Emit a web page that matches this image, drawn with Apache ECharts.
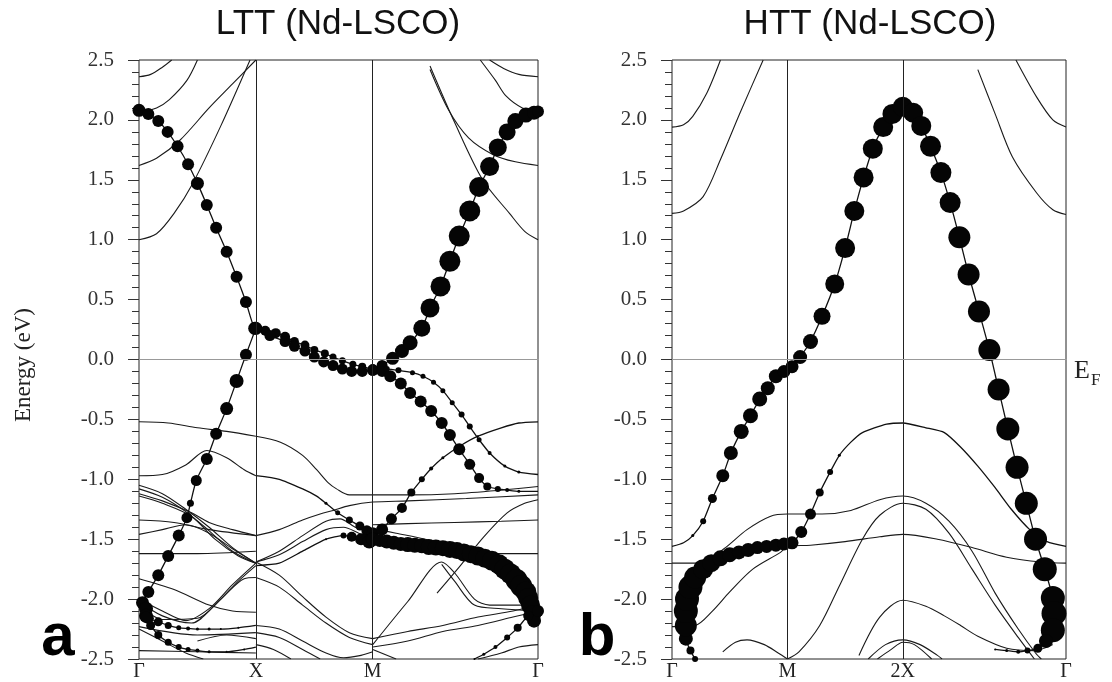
<!DOCTYPE html>
<html>
<head>
<meta charset="utf-8">
<title>LTT / HTT band structure</title>
<script src="https://cdn.jsdelivr.net/npm/echarts@6.0.0/dist/echarts.min.js"></script>
<style>
  html, body { margin: 0; padding: 0; background: #fff; }
  #main { width: 1112px; height: 682px; }
</style>
</head>
<body>
<div id="main"></div>
<script type="text/javascript">
// k path positions (Γ-X = X-M = 1, M-Γ = sqrt 2)
var kTicks = [0, 1, 2, 3.414];
var lttLabels = ['Γ', 'X', 'M', 'Γ'];
var httLabels = ['Γ', 'M', '2X', 'Γ'];
var energyTicks = [-2.5, 2.5, 0.5];

// ---------- LTT panel: thin bands [k, E] ----------
var lttThin = [
  [[0,2.36],[0.1,2.38],[0.2,2.44],[0.28,2.5]],
  [[0,2.06],[0.15,2.1],[0.26,2.17],[0.41,2.33],[0.5,2.5]],
  [[0,1.62],[0.15,1.68],[0.35,1.83],[0.6,2.1],[0.8,2.3],[1.0,2.5]],
  [[0,1.0],[0.15,1.05],[0.3,1.22],[0.46,1.47],[0.7,1.95],[0.95,2.5]],
  [[2.49,2.45],[2.7,1.98],[2.94,1.5],[3.17,1.22],[3.3,1.07],[3.414,1.0]],
  [[2.49,2.42],[2.65,2.08],[2.82,1.85],[3.03,1.71],[3.22,1.65],[3.414,1.62]],
  [[2.92,2.5],[3.05,2.33],[3.14,2.2],[3.28,2.1],[3.414,2.07]],
  [[3.0,2.5],[3.12,2.43],[3.25,2.38],[3.414,2.36]],
  [[0,-0.52],[0.25,-0.53],[0.5,-0.57],[0.75,-0.6],[1,-0.64]],
  [[0,-0.97],[0.2,-0.96],[0.4,-0.88],[0.58,-0.76],[0.75,-0.82],[0.9,-0.92],[1,-0.97]],
  [[0,-1.05],[0.2,-1.12],[0.4,-1.25],[0.6,-1.4],[0.8,-1.57],[1,-1.7]],
  [[0,-1.08],[0.2,-1.15],[0.4,-1.27],[0.6,-1.43],[0.8,-1.6],[1,-1.7]],
  [[0,-1.12],[0.2,-1.18],[0.45,-1.28],[0.6,-1.36],[0.8,-1.42],[1,-1.47]],
  [[0,-1.14],[0.2,-1.2],[0.45,-1.31],[0.65,-1.5],[0.85,-1.64],[1,-1.7]],
  [[0,-1.34],[0.3,-1.36],[0.6,-1.42],[1,-1.47]],
  [[0,-1.46],[0.2,-1.42],[0.4,-1.38],[0.6,-1.45],[0.8,-1.58],[1,-1.7]],
  [[0,-1.62],[0.5,-1.62],[1,-1.6]],
  [[0,-1.83],[0.3,-1.92],[0.6,-2.05],[0.8,-2.1],[1,-2.11]],
  [[0,-2.0],[0.2,-2.1],[0.4,-2.18],[0.6,-2.08],[0.8,-1.88],[1,-1.7]],
  [[0,-2.02],[0.2,-2.14],[0.45,-2.2],[0.65,-2.05],[0.85,-1.85],[1,-1.72]],
  [[0,-2.05],[0.2,-2.17],[0.5,-2.16],[0.7,-2.0],[0.9,-1.83],[1,-1.82]],
  [[0,-2.23],[0.5,-2.3],[1,-2.28]],
  [[0,-2.43],[0.5,-2.44],[1,-2.45]],
  [[0,-2.25],[0.2,-2.35],[0.4,-2.45],[0.55,-2.5]],
  [[0.5,-2.35],[0.75,-2.3],[1,-2.33]],
  [[1,-0.64],[1.21,-0.69],[1.4,-0.8],[1.52,-0.92],[1.62,-1.03],[1.69,-1.08],[1.8,-1.13],[2,-1.13],[2.3,-1.13],[2.7,-1.12],[3.1,-1.09],[3.414,-1.06]],
  [[1,-1.47],[1.2,-1.42],[1.4,-1.34],[1.55,-1.29],[1.66,-1.26],[1.8,-1.22],[2,-1.19],[2.3,-1.18],[2.8,-1.16],[3.414,-1.13]],
  [[1,-1.69],[1.2,-1.6],[1.4,-1.47],[1.6,-1.35],[1.72,-1.33],[1.85,-1.4],[2,-1.45]],
  [[1,-1.69],[1.2,-1.63],[1.4,-1.52],[1.6,-1.42],[1.75,-1.4],[1.88,-1.45],[2,-1.5]],
  [[1,-1.69],[1.2,-1.8],[1.4,-1.98],[1.6,-2.15],[1.8,-2.28],[2,-2.33]],
  [[1,-1.82],[1.2,-1.9],[1.4,-2.05],[1.6,-2.2],[1.8,-2.32],[2,-2.38]],
  [[1,-2.22],[1.2,-2.25],[1.4,-2.35],[1.6,-2.45],[1.75,-2.49],[1.9,-2.47],[2,-2.44]],
  [[1,-2.28],[1.2,-2.32],[1.4,-2.42],[1.55,-2.5]],
  [[1,-2.38],[1.15,-2.42],[1.3,-2.5]],
  [[2.0,-1.38],[2.3,-1.37],[2.7,-1.36],[3.1,-1.35],[3.414,-1.34]],
  [[2.0,-1.41],[2.2,-1.45],[2.45,-1.5],[2.7,-1.57],[3.0,-1.62],[3.414,-1.62]],
  [[2.0,-2.38],[2.3,-2.02],[2.59,-1.69],[2.7,-1.78],[2.87,-2.0],[3.0,-2.05],[3.2,-2.05],[3.414,-2.05]],
  [[2.59,-1.71],[2.7,-1.85],[2.87,-2.05],[3.1,-2.08],[3.414,-2.1]],
  [[2.55,-1.95],[2.75,-1.72],[2.95,-1.48],[3.15,-1.28],[3.3,-1.2],[3.414,-1.17]],
  [[2.0,-2.33],[2.3,-2.27],[2.6,-2.22],[2.9,-2.15],[3.2,-2.1],[3.414,-2.05]],
  [[2.0,-2.4],[2.3,-2.35],[2.6,-2.27],[2.9,-2.22],[3.2,-2.15],[3.414,-2.1]],
  [[2.0,-2.42],[2.2,-2.5]],
  [[2.9,-2.5],[3.1,-2.45],[3.25,-2.4],[3.414,-2.38]]
];

// ---------- LTT panel: fat bands [k, E, dot size] ----------
var lttFatDown = [[0,2.08,13],[0.08,2.05,12],[0.165,1.99,12],[0.245,1.9,12],[0.33,1.78,12],[0.42,1.63,12],[0.5,1.47,13],[0.58,1.29,12],[0.66,1.1,12],[0.75,0.9,12],[0.835,0.69,12],[0.915,0.48,12],[0.99,0.26,13],
  [1.08,0.24,10],[1.17,0.22,10],[1.25,0.19,10],[1.33,0.15,9],[1.42,0.12,9],[1.5,0.08,8],[1.59,0.05,8],[1.66,0.02,7],[1.74,-0.01,7],[1.83,-0.04,7],[1.91,-0.06,8],[2.0,-0.08,9]];
var lttFatXM = [[1.0,0.26,13],[1.12,0.2,11],[1.25,0.15,11],[1.33,0.11,11],[1.42,0.07,11],[1.5,0.02,11],[1.58,-0.02,11],[1.66,-0.05,11],[1.74,-0.08,11],[1.82,-0.1,11],[1.91,-0.1,11],[2.0,-0.09,11]];
var lttFatUp = [[2.0,-0.08,10],[2.08,-0.05,11],[2.17,0.01,13],[2.25,0.07,14],[2.32,0.14,15],[2.42,0.26,17],[2.49,0.43,19],[2.58,0.61,20],[2.66,0.82,21],[2.74,1.03,21],[2.83,1.24,21],[2.91,1.44,20],[3.0,1.61,19],[3.07,1.77,18],[3.15,1.9,17],[3.22,1.99,16],[3.31,2.04,15],[3.38,2.06,14],[3.414,2.07,12]];
var lttFatMG1 = [[2.0,-0.09,11],[2.08,-0.1,11],[2.15,-0.14,12],[2.24,-0.2,12],[2.32,-0.28,12],[2.41,-0.35,12],[2.5,-0.43,12],[2.59,-0.53,12],[2.66,-0.63,12],[2.74,-0.75,12],[2.83,-0.875,11],[2.91,-0.99,10],[2.98,-1.06,8],[3.07,-1.08,6],[3.15,-1.09,4],[3.25,-1.1,3],[3.414,-1.1,0]];
var lttFatMG2 = [[2.0,-0.08,8],[2.12,-0.08,6],[2.22,-0.09,6],[2.34,-0.11,5],[2.43,-0.14,5],[2.52,-0.19,5],[2.6,-0.26,5],[2.68,-0.36,5],[2.76,-0.46,6],[2.83,-0.56,6],[2.91,-0.67,5],[3.0,-0.78,4],[3.13,-0.89,3],[3.25,-0.94,3],[3.414,-0.96,0]];
var lttFatGX = [[0.03,-2.03,13],[0.08,-1.94,12],[0.165,-1.8,12],[0.25,-1.64,12],[0.34,-1.47,12],[0.41,-1.32,11],[0.44,-1.2,7],[0.49,-1.01,11],[0.58,-0.83,12],[0.66,-0.62,12],[0.75,-0.41,13],[0.835,-0.18,14],[0.915,0.04,12],[1.0,0.26,11]];
var lttFatLow1 = [[0.06,-2.08,14],[0.06,-2.14,14],[0.08,-2.16,11],[0.165,-2.19,9],[0.25,-2.22,7],[0.34,-2.24,5],[0.42,-2.245,4],[0.5,-2.25,3],[0.6,-2.25,3],[0.7,-2.25,2],[0.85,-2.24,2],[1.0,-2.22,0]];
var lttFatLow2 = [[0.06,-2.15,11],[0.1,-2.22,9],[0.165,-2.3,8],[0.25,-2.36,7],[0.34,-2.4,6],[0.42,-2.42,5],[0.5,-2.43,4],[0.6,-2.44,3],[0.75,-2.44,2],[0.9,-2.42,2],[1.0,-2.4,0]];
var lttFatXM2 = [[1,-0.97,0],[1.2,-1.0,0],[1.4,-1.08,0],[1.52,-1.14,0],[1.6,-1.2,3],[1.7,-1.28,5],[1.8,-1.34,7],[1.89,-1.39,9],[1.95,-1.43,11],[2.0,-1.45,12]];
var lttFatXM3 = [[1,-1.72,0],[1.2,-1.7,0],[1.4,-1.6,0],[1.6,-1.5,2],[1.75,-1.47,6],[1.82,-1.48,10],[1.9,-1.5,12],[1.97,-1.52,14]];
var lttFatMGc = [[2.0,-1.5,14],[2.08,-1.42,12],[2.16,-1.33,11],[2.25,-1.24,10],[2.33,-1.11,8],[2.42,-1.0,6],[2.5,-0.91,4],[2.6,-0.82,3],[2.75,-0.72,2],[2.9,-0.64,2],[3.1,-0.57,0],[3.25,-0.53,0],[3.414,-0.52,0]];
var lttFatBig = [[2.0,-1.5,13],[2.06,-1.51,13],[2.12,-1.52,14],[2.18,-1.53,14],[2.24,-1.54,14],[2.3,-1.545,15],[2.36,-1.55,15],[2.42,-1.555,15],[2.48,-1.565,16],[2.54,-1.57,16],[2.6,-1.575,16],[2.66,-1.585,17],[2.72,-1.595,17],[2.78,-1.61,18],[2.84,-1.625,18],[2.9,-1.64,19],[2.96,-1.66,19],[3.02,-1.68,20],[3.08,-1.71,20],[3.13,-1.75,21],[3.18,-1.79,21],[3.23,-1.84,22],[3.27,-1.89,22],[3.31,-1.94,21],[3.33,-1.99,20],[3.35,-2.05,19],[3.37,-2.12,17],[3.38,-2.18,14]];
var lttFatGdown = [[3.414,-2.1,12],[3.33,-2.14,10],[3.24,-2.24,8],[3.15,-2.32,6],[3.05,-2.4,4],[2.95,-2.46,3],[2.87,-2.5,2]];

// ---------- HTT panel: thin bands [k, E] ----------
var httThin = [
  [[0,1.94],[0.1,1.96],[0.18,2.03],[0.3,2.22],[0.42,2.5]],
  [[0,1.22],[0.1,1.24],[0.27,1.36],[0.42,1.67],[0.59,2.06],[0.79,2.5]],
  [[2.65,2.42],[2.8,2.05],[2.95,1.69],[3.16,1.39],[3.3,1.25],[3.414,1.21]],
  [[2.98,2.5],[3.16,2.19],[3.3,2.0],[3.414,1.94]],
  [[0,-2.23],[0.2,-2.22],[0.35,-2.1],[0.5,-1.94],[0.7,-1.75],[0.94,-1.61],[1,-1.56],[1.2,-1.55],[1.5,-1.52],[1.8,-1.48],[2,-1.46],[2.3,-1.5],[2.6,-1.57],[2.9,-1.65],[3.2,-1.69],[3.414,-1.7]],
  [[0,-1.7],[0.25,-1.7],[0.45,-1.58],[0.65,-1.42],[0.85,-1.31],[1,-1.29],[1.3,-1.29],[1.55,-1.26],[1.8,-1.17],[2,-1.14],[2.2,-1.2],[2.4,-1.35],[2.6,-1.6],[2.8,-1.95],[3.0,-2.25],[3.15,-2.45],[3.2,-2.5]],
  [[1,-2.5],[1.1,-2.44],[1.28,-2.22],[1.45,-1.89],[1.65,-1.5],[1.8,-1.3],[2,-1.2],[2.2,-1.25],[2.4,-1.45],[2.6,-1.75],[2.8,-2.05],[3.0,-2.32],[3.14,-2.5]],
  [[1.62,-2.47],[1.8,-2.15],[2,-2.01],[2.2,-2.06],[2.36,-2.14],[2.5,-2.22],[2.65,-2.31],[2.9,-2.41],[3.14,-2.43],[3.3,-2.38]],
  [[1.7,-2.5],[1.85,-2.38],[2,-2.34],[2.15,-2.38],[2.3,-2.47],[2.34,-2.5]],
  [[1.78,-2.5],[1.9,-2.42],[2,-2.36],[2.1,-2.38],[2.25,-2.5]],
  [[0.44,-2.44],[0.55,-2.36],[0.65,-2.34],[0.8,-2.38],[0.92,-2.45],[1,-2.5]]
];

// ---------- HTT panel: fat bands [k, E, dot size] ----------
var httFatMain = [[0,-1.56,0],[0.1,-1.53,0],[0.18,-1.47,3],[0.27,-1.35,6],[0.35,-1.16,9],[0.44,-0.97,13],[0.51,-0.78,14],[0.6,-0.6,15],[0.68,-0.47,15],[0.76,-0.33,15],[0.83,-0.24,14],[0.9,-0.14,14],[0.97,-0.1,13],[1.04,-0.06,13],
  [1.11,0.02,14],[1.2,0.15,15],[1.3,0.36,17],[1.41,0.63,19],[1.5,0.93,20],[1.58,1.24,20],[1.66,1.52,20],[1.74,1.76,20],[1.83,1.94,20],[1.91,2.05,20],[2.0,2.11,20],
  [2.09,2.06,20],[2.16,1.95,20],[2.24,1.78,21],[2.33,1.56,21],[2.41,1.31,21],[2.49,1.02,22],[2.57,0.71,22],[2.66,0.4,22],[2.75,0.08,22],[2.83,-0.25,22],[2.91,-0.58,23],[2.99,-0.9,23],[3.07,-1.2,23],[3.15,-1.5,23],[3.23,-1.75,24],[3.3,-1.99,24],[3.31,-2.12,25],[3.3,-2.26,24],[3.24,-2.35,14],[3.17,-2.41,9],[3.08,-2.43,6],[3.0,-2.44,4],[2.9,-2.43,3],[2.8,-2.42,2]];
var httFatLow = [[0.2,-2.5,6],[0.16,-2.43,8],[0.12,-2.33,14],[0.12,-2.22,22],[0.12,-2.1,24],[0.13,-2.0,24],[0.16,-1.9,24],[0.2,-1.82,22],[0.27,-1.75,20],[0.34,-1.7,18],[0.42,-1.66,16],[0.5,-1.63,15],[0.58,-1.61,14],[0.66,-1.59,14],[0.74,-1.57,13],[0.82,-1.56,13],[0.9,-1.55,13],[0.97,-1.54,13],[1.04,-1.53,13],[1.12,-1.44,12],[1.2,-1.29,11],[1.28,-1.11,8],[1.37,-0.94,6],[1.45,-0.8,3],
  [1.55,-0.69,0],[1.65,-0.61,0],[1.86,-0.54,0],[2.0,-0.53,0],[2.2,-0.57,0],[2.36,-0.61,0],[2.5,-0.73,0],[2.65,-0.89,0],[2.8,-1.07,0],[2.94,-1.25,0],[3.1,-1.42,0],[3.25,-1.52,0],[3.414,-1.56,0]];

var lttFat = [lttFatDown, lttFatXM, lttFatUp, lttFatMG1, lttFatMG2, lttFatGX, lttFatLow1, lttFatLow2, lttFatXM2, lttFatXM3, lttFatMGc, lttFatBig, lttFatGdown];
var httFat = [httFatMain, httFatLow];

var SERIF = '"Liberation Serif", "DejaVu Serif", serif';
var SANS = '"Liberation Sans", Arial, sans-serif';

function makeXAxis(gridIndex, labels) {
  return {
    type: 'value', gridIndex: gridIndex, min: kTicks[0], max: kTicks[3],
    axisLine: { show: false }, axisTick: { show: false }, splitLine: { show: false },
    axisLabel: {
      customValues: kTicks,
      margin: 3,
      fontFamily: SERIF, fontSize: 20, color: '#222',
      formatter: function (v) {
        for (var i = 0; i < kTicks.length; i++) {
          if (Math.abs(kTicks[i] - v) < 1e-6) return labels[i];
        }
        return '';
      }
    }
  };
}

function makeYAxis(gridIndex) {
  return {
    type: 'value', gridIndex: gridIndex,
    min: energyTicks[0], max: energyTicks[1], interval: energyTicks[2],
    axisLine: { show: false },
    axisTick: { show: true, inside: false, length: 11, lineStyle: { color: '#333', width: 1 } },
    minorTick: { show: true, splitNumber: 5, length: 7, lineStyle: { color: '#333', width: 1 } },
    splitLine: { show: false },
    axisLabel: {
      margin: 25, fontFamily: SERIF, fontSize: 21, color: '#333',
      formatter: function (v) { return v.toFixed(1); }
    }
  };
}

function thinSeries(idx, pts) {
  return {
    type: 'line', xAxisIndex: idx, yAxisIndex: idx, data: pts,
    showSymbol: false, smooth: 0.3, silent: true, animation: false,
    lineStyle: { color: '#1a1a1a', width: 1.1 }, z: 2
  };
}

function fatSeries(idx, pts) {
  return {
    type: 'line', xAxisIndex: idx, yAxisIndex: idx, data: pts,
    showSymbol: true, showAllSymbol: true, symbol: 'circle',
    symbolSize: function (v) { return v[2]; },
    smooth: 0.2, silent: true, animation: false,
    itemStyle: { color: '#050505' },
    lineStyle: { color: '#111', width: 1.3 }, z: 3
  };
}

function guideSeries(idx, xs) {
  return {
    type: 'line', xAxisIndex: idx, yAxisIndex: idx, data: [], silent: true, animation: false,
    markLine: {
      silent: true, symbol: ['none', 'none'], label: { show: false }, animation: false,
      data: [
        { xAxis: xs[0], lineStyle: { color: '#222', width: 1, type: 'solid' } },
        { xAxis: xs[1], lineStyle: { color: '#222', width: 1, type: 'solid' } },
        { yAxis: 0, lineStyle: { color: '#999', width: 1, type: 'solid' } }
      ]
    }
  };
}

var series = [guideSeries(0, [1, 2]), guideSeries(1, [1, 2])];
for (var i = 0; i < lttThin.length; i++) series.push(thinSeries(0, lttThin[i]));
for (var i = 0; i < httThin.length; i++) series.push(thinSeries(1, httThin[i]));
for (var i = 0; i < lttFat.length; i++) series.push(fatSeries(0, lttFat[i]));
for (var i = 0; i < httFat.length; i++) series.push(fatSeries(1, httFat[i]));

var option = {
  backgroundColor: '#fff',
  animation: false,
  grid: [
    { left: 139, top: 60, width: 399, height: 599, show: true, borderColor: '#222', borderWidth: 1, backgroundColor: 'transparent' },
    { left: 672, top: 60, width: 394, height: 599, show: true, borderColor: '#222', borderWidth: 1, backgroundColor: 'transparent' }
  ],
  xAxis: [makeXAxis(0, lttLabels), makeXAxis(1, httLabels)],
  yAxis: [makeYAxis(0), makeYAxis(1)],
  graphic: [
    { type: 'text', x: 338, y: 24, style: { text: 'LTT (Nd-LSCO)', font: '35px ' + SANS, fill: '#111', align: 'center', verticalAlign: 'middle' } },
    { type: 'text', x: 870, y: 24, style: { text: 'HTT (Nd-LSCO)', font: '35px ' + SANS, fill: '#111', align: 'center', verticalAlign: 'middle' } },
    { type: 'text', x: 24, y: 365, rotation: Math.PI / 2, style: { text: 'Energy (eV)', font: '23px ' + SERIF, fill: '#222', align: 'center', verticalAlign: 'middle' } },
    { type: 'text', x: 58, y: 638, style: { text: 'a', font: 'bold 60px ' + SANS, fill: '#000', align: 'center', verticalAlign: 'middle' } },
    { type: 'text', x: 597, y: 638, style: { text: 'b', font: 'bold 60px ' + SANS, fill: '#000', align: 'center', verticalAlign: 'middle' } },
    { type: 'text', x: 1074, y: 371, style: { text: 'E', font: '26px ' + SERIF, fill: '#222', align: 'left', verticalAlign: 'middle' } },
    { type: 'text', x: 1091, y: 381, style: { text: 'F', font: '17px ' + SERIF, fill: '#222', align: 'left', verticalAlign: 'middle' } }
  ],
  series: series
};

var chart = echarts.init(document.getElementById('main'), null, { renderer: 'canvas' });
chart.setOption(option);
</script>
</body>
</html>
